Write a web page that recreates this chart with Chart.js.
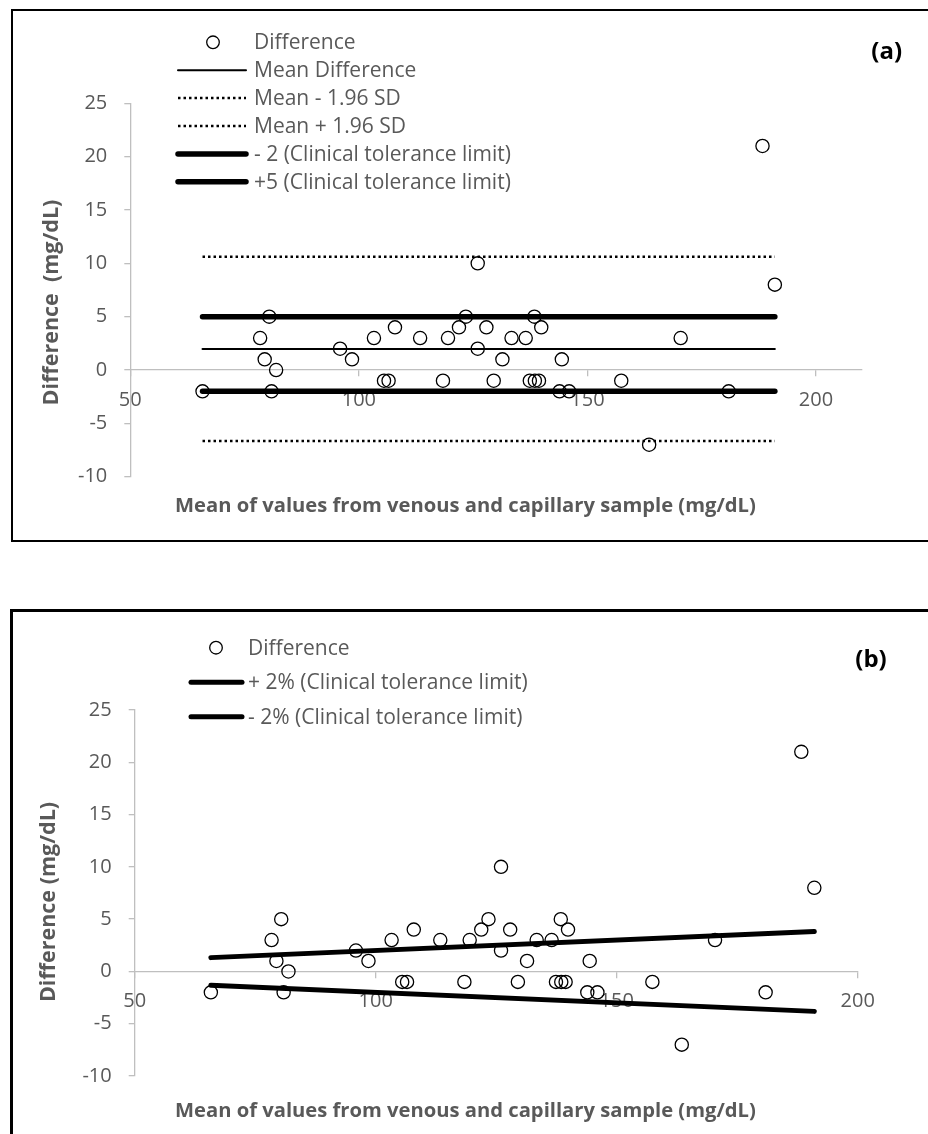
<!DOCTYPE html>
<html>
<head>
<meta charset="utf-8">
<script src="https://cdn.jsdelivr.net/npm/chart.js@4.4.1/dist/chart.umd.min.js"></script>
<style>
  html, body { margin: 0; padding: 0; background: #fff; }
  body { width: 928px; height: 1134px; position: relative; overflow: hidden; }
  .frame { position: absolute; box-sizing: border-box; }
  #frameA { left: 11px; top: 9px; width: 940px; height: 533px; border: 2px solid #000; }
  #frameB { left: 10px; top: 609px; width: 940px; height: 560px; border: 3px solid #000; }
  .wrap { position: absolute; left: 0; }
  #wrapA { top: 0; width: 928px; height: 560px; }
  #wrapB { top: 580px; width: 928px; height: 554px; }
</style>
</head>
<body>
<div class="frame" id="frameA"></div>
<div class="frame" id="frameB"></div>
<div class="wrap" id="wrapA"><canvas id="chartA" width="928" height="560"></canvas></div>
<div class="wrap" id="wrapB"><canvas id="chartB" width="928" height="554"></canvas></div>
<script>
// observations: mean of venous & capillary value (x) and their difference (y), mg/dL
const MEAN_VALUES = [65.8, 78.4, 79.4, 80.4, 80.9, 81.9, 95.9, 98.5, 103.3, 105.5, 106.5, 107.9,
  113.4, 118.4, 119.5, 121.9, 123.4, 126.0, 126.0, 127.9, 129.5, 131.4, 133.4, 136.5, 137.4,
  138.4, 138.5, 139.4, 139.9, 143.9, 144.4, 146.0, 157.4, 163.5, 170.4, 180.9, 188.3, 191.0];
const DIFF_VALUES = [-2, 3, 1, 5, -2, 0, 2, 1, 3, -1, -1, 4,
  3, -1, 3, 4, 5, 10, 2, 4, -1, 1,
  3, 3, -1, 5, -1, -1, 4, -2, 1, -2, -1, -7, 3, -2, 21, 8];

// reference lines (start / end x of the line series)
const LINE_X = [65.8, 191.0];
const MEAN_DIFF = 1.97;
const MEAN_MINUS_SD = -6.65;
const MEAN_PLUS_SD = 10.62;
const TOL_LOW = -2;
const TOL_HIGH = 5;
const PCT_UPPER = [1.32, 3.82];   // +2% of mean value
const PCT_LOWER = [-1.32, -3.82]; // -2% of mean value

// axes
const Y_MIN = -10, Y_MAX = 25, Y_STEP = 5;
const X_TICKS_A = [50, 100, 150, 200];
const X_TICKS_B = [50, 100, 150, 200];
const X_MAX_A = 210, X_MAX_B = 200;

const GREY = '#595959';
const AXIS_GREY = '#bfbfbf';
const FONT = "'Open Sans', 'Liberation Sans', sans-serif";

const points = MEAN_VALUES.map((x, i) => ({ x, y: DIFF_VALUES[i] }));
const flat = y => LINE_X.map(x => ({ x, y }));
const sloped = ys => LINE_X.map((x, i) => ({ x, y: ys[i] }));

function diffDataset() {
  return {
    label: 'Difference', data: points, showLine: false,
    pointRadius: 6.6, pointHoverRadius: 6.6, pointBorderWidth: 1.3,
    pointBorderColor: '#000', pointBackgroundColor: 'rgba(0,0,0,0)'
  };
}
function lineDataset(label, data, width, dash) {
  return {
    label, data, showLine: true, borderColor: '#000', borderWidth: width,
    borderDash: dash || [], borderCapStyle: dash ? 'butt' : 'round',
    pointRadius: 0, pointHoverRadius: 0, fill: false
  };
}

// legend, axis titles and panel tag, drawn straight on the canvas
const panelText = {
  id: 'panelText',
  afterDraw(chart, args, o) {
    const ctx = chart.ctx;
    ctx.save();
    ctx.textBaseline = 'middle';
    chart.data.datasets.forEach((ds, i) => {
      const y = o.legendTop + i * o.legendStep;
      ctx.strokeStyle = '#000';
      if (ds.showLine === false) {
        ctx.lineWidth = 1.3;
        ctx.beginPath();
        ctx.arc(o.markerX, y, 6.3, 0, Math.PI * 2);
        ctx.stroke();
      } else {
        ctx.lineWidth = ds.borderWidth;
        ctx.lineCap = ds.borderCapStyle;
        ctx.setLineDash(ds.borderDash);
        ctx.beginPath();
        ctx.moveTo(o.lineX0, y);
        ctx.lineTo(o.lineX1, y);
        ctx.stroke();
        ctx.setLineDash([]);
      }
      ctx.fillStyle = GREY;
      ctx.font = '21px ' + FONT;
      ctx.textAlign = 'left';
      ctx.fillText(ds.label, o.textX, y + 1);
    });
    // x title
    ctx.font = 'bold 20.2px ' + FONT;
    ctx.fillStyle = GREY;
    ctx.textAlign = 'left';
    ctx.fillText(o.xTitle, o.xTitleX, o.xTitleY);
    // y title
    ctx.save();
    ctx.font = 'bold 21.5px ' + FONT;
    ctx.translate(o.yTitleX, o.yTitleY);
    ctx.rotate(-Math.PI / 2);
    ctx.textAlign = 'center';
    ctx.fillText(o.yTitle, 0, 0);
    ctx.restore();
    // panel tag
    ctx.font = 'bold 24px ' + FONT;
    ctx.fillStyle = '#000';
    ctx.textAlign = 'center';
    ctx.fillText(o.tag, o.tagX, o.tagY);
    ctx.restore();
  }
};

function makeScales(xMax, xTicks, yWidth) {
  return {
    x: {
      type: 'linear', min: 50, max: xMax,
      position: { y: 0 },
      afterFit: s => { s.height = 0; },
      afterBuildTicks: s => { s.ticks = xTicks.map(v => ({ value: v })); },
      grid: { drawOnChartArea: false, drawTicks: true, tickLength: 6, color: AXIS_GREY, lineWidth: 1.3 },
      border: { color: AXIS_GREY, width: 1.3 },
      ticks: { color: GREY, font: { family: FONT, size: 20 }, padding: 12, maxRotation: 0, autoSkip: false }
    },
    y: {
      type: 'linear', min: Y_MIN, max: Y_MAX,
      afterFit: s => { s.width = yWidth; },
      grid: { drawOnChartArea: false, drawTicks: true, tickLength: 6, color: AXIS_GREY, lineWidth: 1.3 },
      border: { color: AXIS_GREY, width: 1.3 },
      ticks: { stepSize: Y_STEP, color: GREY, font: { family: FONT, size: 20 }, padding: 17 }
    }
  };
}

const XTITLE = 'Mean of values from venous and capillary sample (mg/dL)';

new Chart(document.getElementById('chartA'), {
  type: 'scatter',
  data: {
    datasets: [
      diffDataset(),
      lineDataset('Mean Difference', flat(MEAN_DIFF), 2),
      lineDataset('Mean - 1.96 SD', flat(MEAN_MINUS_SD), 2.5, [2.5, 3]),
      lineDataset('Mean + 1.96 SD', flat(MEAN_PLUS_SD), 2.5, [2.5, 3]),
      lineDataset('- 2 (Clinical tolerance limit)', flat(TOL_LOW), 5.5),
      lineDataset('+5 (Clinical tolerance limit)', flat(TOL_HIGH), 5.5)
    ]
  },
  options: {
    responsive: false, animation: false, devicePixelRatio: 1,
    layout: { padding: { left: 0, top: 103.3, right: 66.3, bottom: 83.3 } },
    scales: makeScales(X_MAX_A, X_TICKS_A, 130.3),
    plugins: {
      legend: { display: false }, tooltip: { enabled: false },
      panelText: {
        legendTop: 42.3, legendStep: 27.9, markerX: 213, lineX0: 178, lineX1: 246, textX: 254,
        xTitle: XTITLE, xTitleX: 175, xTitleY: 506,
        yTitle: 'Difference  (mg/dL)', yTitleX: 52, yTitleY: 302.5,
        tag: '(a)', tagX: 886.7, tagY: 52
      }
    }
  },
  plugins: [panelText]
});

new Chart(document.getElementById('chartB'), {
  type: 'scatter',
  data: {
    datasets: [
      diffDataset(),
      lineDataset('+ 2% (Clinical tolerance limit)', sloped(PCT_UPPER), 5),
      lineDataset('- 2% (Clinical tolerance limit)', sloped(PCT_LOWER), 5)
    ]
  },
  options: {
    responsive: false, animation: false, devicePixelRatio: 1,
    layout: { padding: { left: 0, top: 130, right: 70.3, bottom: 58 } },
    scales: makeScales(X_MAX_B, X_TICKS_B, 134.7),
    plugins: {
      legend: { display: false }, tooltip: { enabled: false },
      panelText: {
        legendTop: 67.7, legendStep: 34.5, markerX: 216, lineX0: 191, lineX1: 242, textX: 248,
        xTitle: XTITLE, xTitleX: 175, xTitleY: 531.7,
        yTitle: 'Difference (mg/dL)', yTitleX: 49, yTitleY: 322,
        tag: '(b)', tagX: 871, tagY: 80
      }
    }
  },
  plugins: [panelText]
});
</script>
</body>
</html>
